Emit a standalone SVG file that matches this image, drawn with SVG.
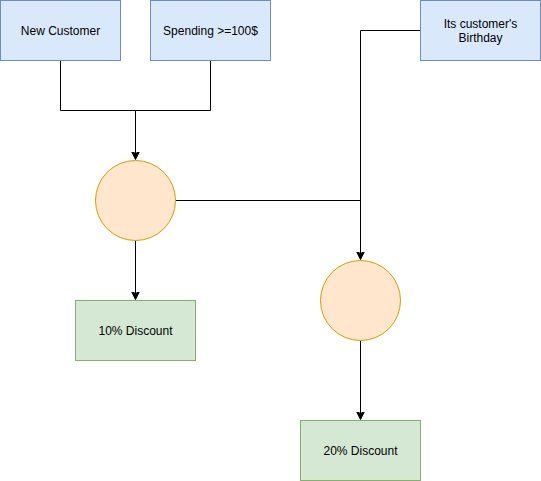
<svg xmlns="http://www.w3.org/2000/svg" width="541" height="481" viewBox="0 0 541 481">
<defs>
<style>
.blue{fill:#dae8fc;stroke:#6c8ebf;stroke-width:1}
.green{fill:#d5e8d4;stroke:#82b366;stroke-width:1}
.orange{fill:#ffe6cc;stroke:#d79b00;stroke-width:1}
.lbl{font-family:"Liberation Sans",Arial,sans-serif;font-size:12px;fill:#000;text-anchor:middle}
.edge{fill:none;stroke:#000;stroke-width:1}
</style>
<marker id="arr" markerWidth="10" markerHeight="10" refX="7" refY="4" orient="auto" markerUnits="userSpaceOnUse">
<path d="M0,0 L8,4 L0,8 L2,4 Z" fill="#000" stroke="#000" stroke-width="1"/>
</marker>
</defs>
<rect width="541" height="481" fill="#fff"/>
<g id="connectors">
<path class="edge" d="M60.5,60.5 V110.5 H135.5 V158.5" marker-end="url(#arr)"/>
<path class="edge" d="M210.5,60.5 V110.5 H135.5"/>
<path class="edge" d="M420.5,30.5 H360.5 V258.5" marker-end="url(#arr)"/>
<path class="edge" d="M175.5,200.5 H360.5"/>
<path class="edge" d="M135.5,240.5 V298.5" marker-end="url(#arr)"/>
<path class="edge" d="M360.5,340.5 V418.5" marker-end="url(#arr)"/>
</g>
<g id="new-customer">
<rect class="blue" x="0.5" y="0.5" width="120" height="60"/>
<text class="lbl" x="60.5" y="35">New Customer</text>
</g>
<g id="spending">
<rect class="blue" x="150.5" y="0.5" width="120" height="60"/>
<text class="lbl" x="210.5" y="35">Spending &gt;=100$</text>
</g>
<g id="birthday">
<rect class="blue" x="420.5" y="0.5" width="120" height="60"/>
<text class="lbl" x="480.5" y="28">Its customer's</text>
<text class="lbl" x="480.5" y="42">Birthday</text>
</g>
<g id="circle1">
<circle class="orange" cx="135.5" cy="200.5" r="40"/>
</g>
<g id="circle2">
<circle class="orange" cx="360.5" cy="300.5" r="40"/>
</g>
<g id="discount10">
<rect class="green" x="75.5" y="300.5" width="120" height="60"/>
<text class="lbl" x="135.5" y="335">10% Discount</text>
</g>
<g id="discount20">
<rect class="green" x="300.5" y="420.5" width="120" height="60"/>
<text class="lbl" x="360.5" y="455">20% Discount</text>
</g>
</svg>
